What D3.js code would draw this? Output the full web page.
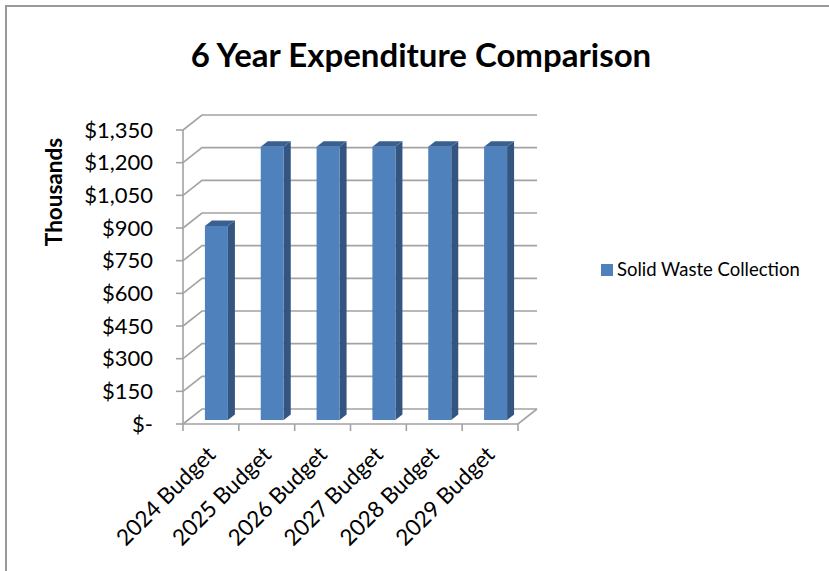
<!DOCTYPE html>
<html><head><meta charset="utf-8">
<script src="https://cdn.jsdelivr.net/npm/d3@7"></script>
<style>html,body{margin:0;padding:0;background:#fff}svg{display:block}text{fill:#000}</style>
</head><body><svg id="c" width="829" height="571"></svg>
<script>
const categories=["2024 Budget","2025 Budget","2026 Budget","2027 Budget","2028 Budget","2029 Budget"];
const seriesName="Solid Waste Collection";
const values=[891,1255,1255,1255,1255,1255];
const tickValues=[0,150,300,450,600,750,900,1050,1200,1350];
const tickLabels=["$-","$150","$300","$450","$600","$750","$900","$1,050","$1,200","$1,350"];
const title="6 Year Expenditure Comparison";
const yTitle="Thousands";

const svg=d3.select("#c");
const font="Lato,sans-serif";
const grey="#a3a3a3";
svg.append("path").attr("fill","none").attr("stroke","#999").attr("stroke-width",2).attr("d","M6,571L6,6L829,6");
svg.append("text").attr("x",421).attr("y",67).attr("text-anchor","middle").attr("font-family",font).attr("font-weight",700).attr("font-size",33).text(title);

const y=d3.scaleLinear().domain([0,1350]).range([424,130]);
const x=d3.scaleBand().domain(categories).range([183,518]);
const dx=19,dy=-15;      // floor depth
const bdx=7,bdy=-5.5;    // bar depth
const inset=5.5,insetY=-4;
const barW=23;

const g=svg.append("g");
tickValues.forEach(v=>{
  g.append("path").attr("fill","none").attr("stroke",grey).attr("stroke-width",1.6)
   .attr("d",`M183,${y(v)}L${183+dx},${y(v)+dy}L${518+dx},${y(v)+dy}`);
  g.append("line").attr("x1",176).attr("x2",183).attr("y1",y(v)).attr("y2",y(v)).attr("stroke",grey).attr("stroke-width",1.6);
});
g.append("line").attr("x1",183).attr("x2",183).attr("y1",y(1350)).attr("y2",y(0)).attr("stroke",grey).attr("stroke-width",1.6);
g.append("path").attr("fill","none").attr("stroke",grey).attr("stroke-width",1.6).attr("d",`M183,424L518,424L${518+dx},${424+dy}`);
[...categories,null].forEach(c=>{
  const px=c?x(c):518;
  g.append("line").attr("x1",px).attr("x2",px).attr("y1",424).attr("y2",431).attr("stroke",grey).attr("stroke-width",1.6);
});
const bars=svg.append("g").selectAll("g").data(values).join("g");
const bx=(d,i)=>x(categories[i])+x.bandwidth()/2-barW/2+inset;
const barTop=d=>y(d)+insetY;
const base=y(0)+insetY;
bars.append("path").attr("fill","#335580").attr("d",(d,i)=>{const l=bx(d,i)+barW;return `M${l},${barTop(d)}L${l+bdx},${barTop(d)+bdy}L${l+bdx},${base+bdy}L${l},${base}Z`});
bars.append("path").attr("fill","#3a608f").attr("d",(d,i)=>{const l=bx(d,i);return `M${l},${barTop(d)}L${l+bdx},${barTop(d)+bdy}L${l+barW+bdx},${barTop(d)+bdy}L${l+barW},${barTop(d)}Z`});
bars.append("rect").attr("fill","#4f81bd").attr("x",(d,i)=>bx(d,i)).attr("y",d=>barTop(d)).attr("width",barW).attr("height",d=>base-barTop(d));
tickValues.forEach((v,i)=>{
  svg.append("text").attr("x",153).attr("y",y(v)+7.5).attr("text-anchor","end").attr("font-family",font).attr("font-size",22).text(tickLabels[i]);
});
categories.forEach(c=>{
  const px=x(c)+x.bandwidth()/2+6;
  svg.append("text").attr("transform",`translate(${px},456) rotate(-45)`).attr("text-anchor","end").attr("font-family",font).attr("font-size",22.5).text(c);
});
svg.append("text").attr("transform","translate(62,192) rotate(-90)").attr("text-anchor","middle").attr("font-family",font).attr("font-weight",700).attr("font-size",22.5).text(yTitle);
svg.append("rect").attr("x",601).attr("y",264).attr("width",12).attr("height",12).attr("fill","#4f81bd");
svg.append("text").attr("x",617).attr("y",276).attr("font-family",font).attr("font-size",18.5).text(seriesName);
</script></body></html>
